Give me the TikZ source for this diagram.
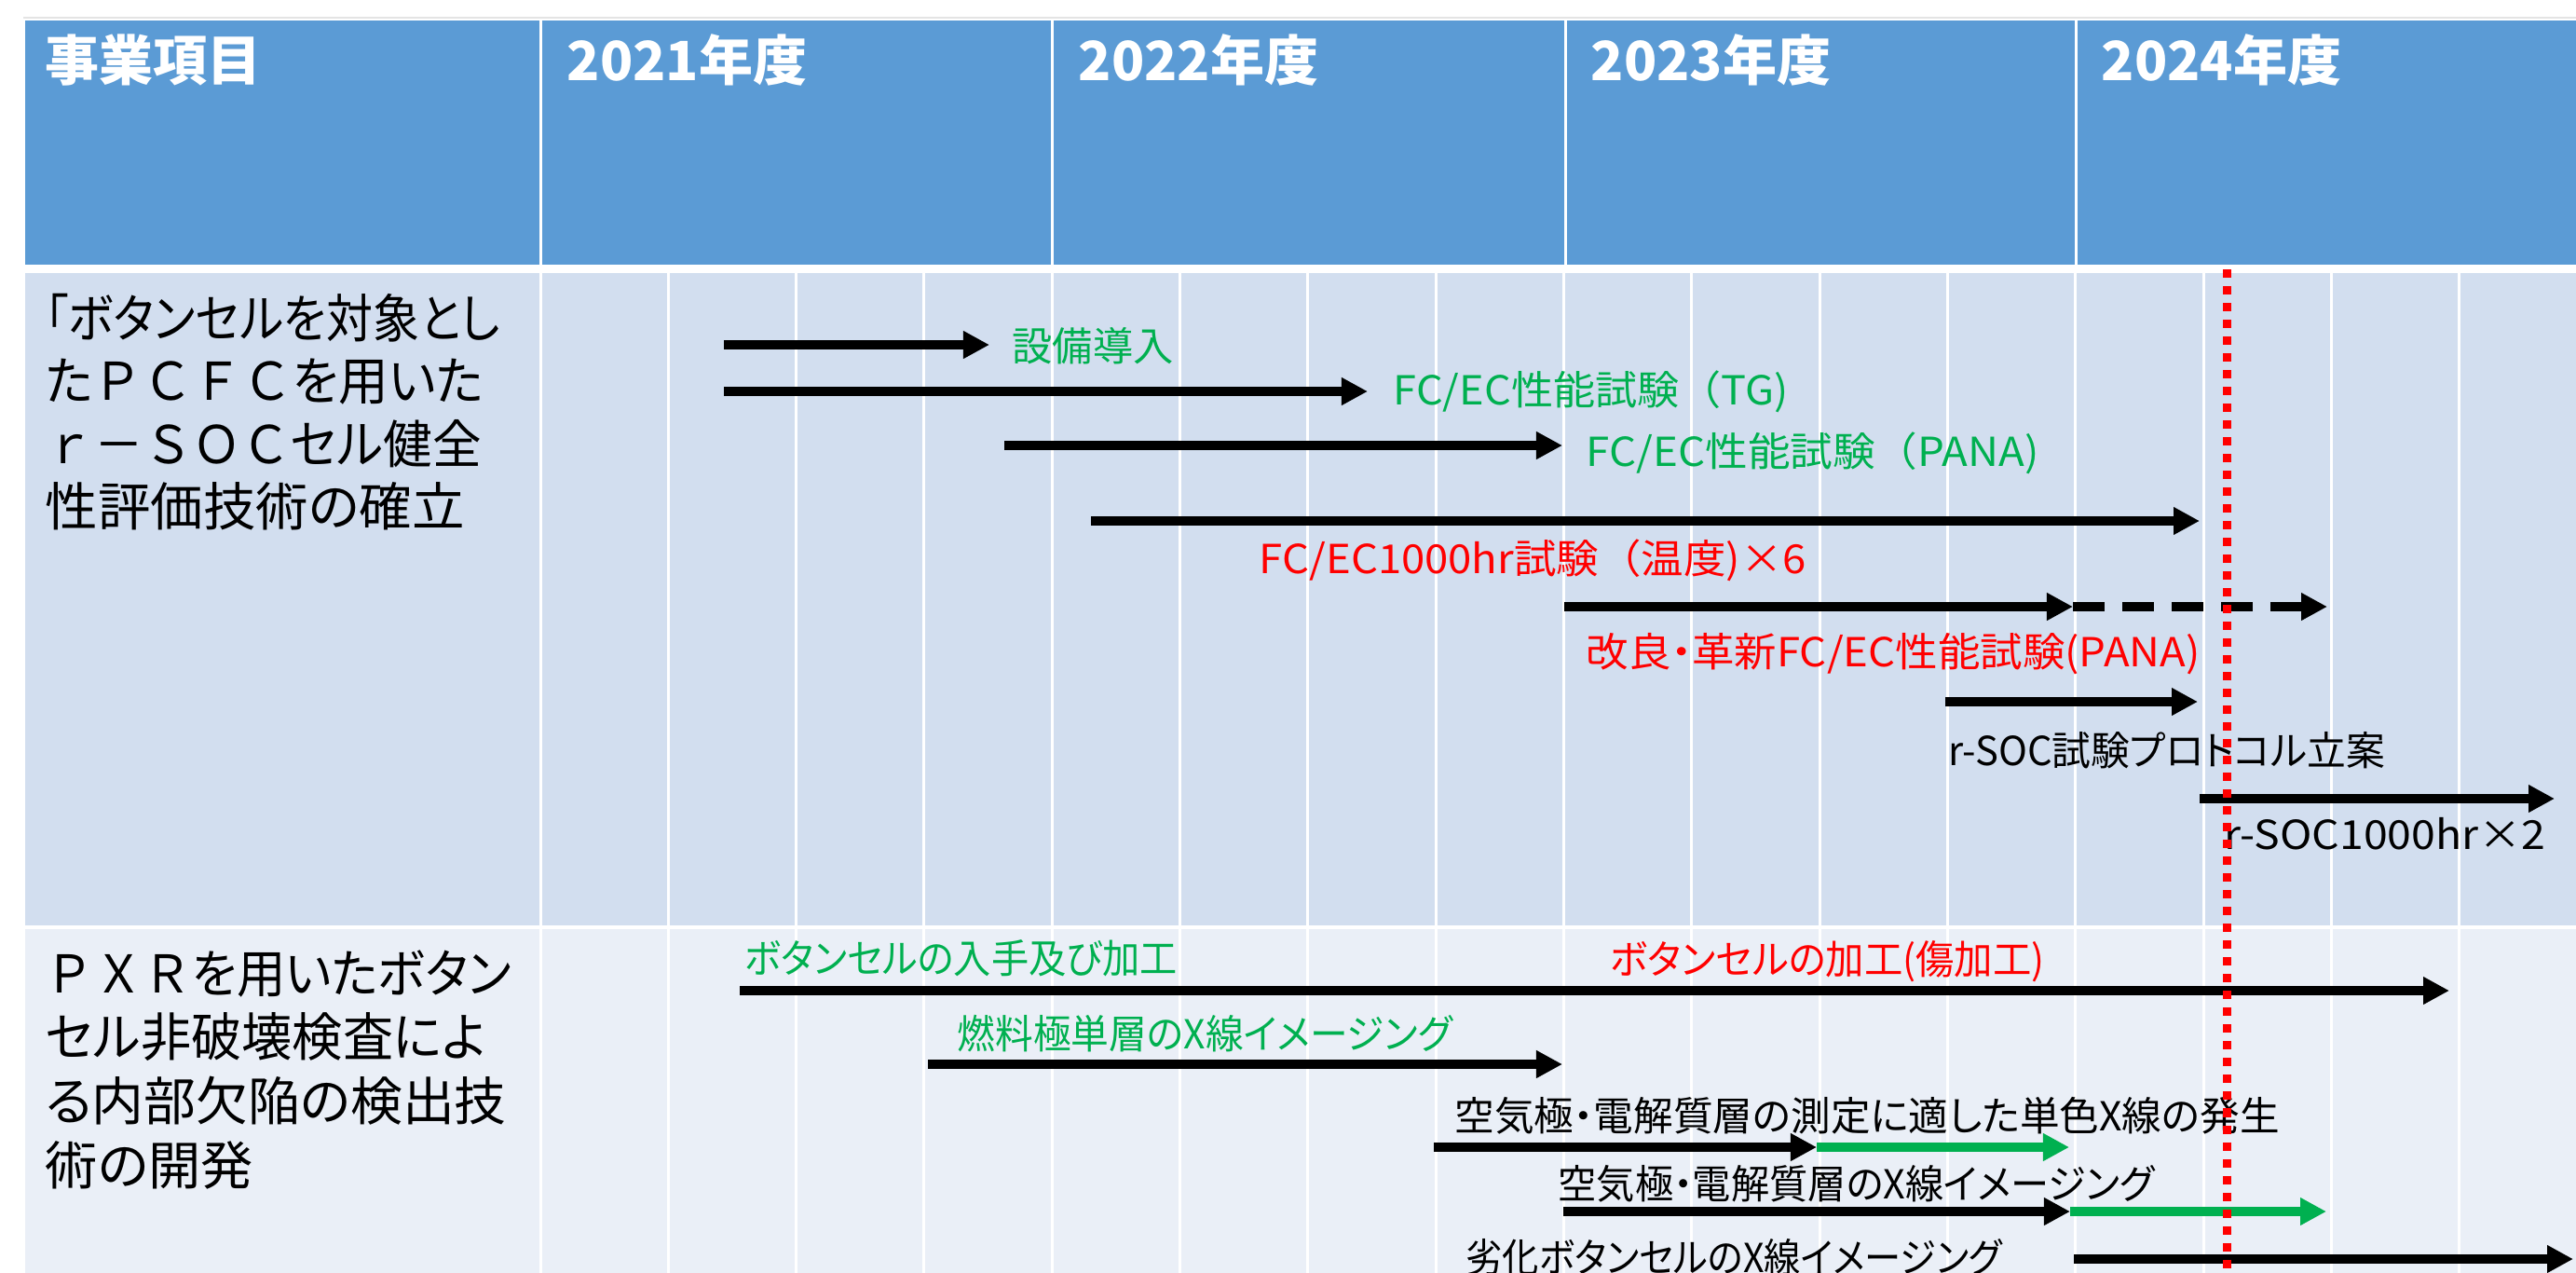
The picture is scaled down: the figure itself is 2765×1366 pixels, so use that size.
\documentclass[tikz,border=0pt]{standalone}
\usepackage{fontspec}
\setmainfont{Noto Sans CJK JP}[RawFeature=+palt]
\newfontfamily\fwfont{Noto Sans CJK JP}
\usetikzlibrary{arrows.meta}
\definecolor{hdr}{HTML}{5B9BD5}
\definecolor{rowA}{HTML}{D2DEEF}
\definecolor{rowB}{HTML}{EAEFF7}
\definecolor{grn}{HTML}{00B050}
\definecolor{rd}{HTML}{FF0000}
\definecolor{topline}{HTML}{E4E4E4}
% fit text to a given width (in px of the reference, 1px = 0.01cm), keeping its height
\newcommand{\fitw}[2]{\resizebox{#1\dimexpr0.01cm\relax}{\height}{#2}}
\begin{document}
\begin{tikzpicture}[x=0.01cm,y=-0.01cm,
  hdrtext/.style={anchor=west, inner sep=0, text=white, font=\fontsize{16.5}{20}\selectfont\bfseries, text height=0.8em, text depth=0.06em},
  itemtext/.style={anchor=north west, inner sep=0, align=left, font=\fontsize{15.9}{19.2}\selectfont},
  lbl/.style={anchor=west, inner sep=0, font=\fontsize{12.2}{14}\selectfont, text height=0.8em, text depth=0.06em},
  arrowbar/.style={line width=0.095cm, -{Triangle[length=0.28cm,width=0.28cm]}},
  gridline/.style={white, line width=0.03cm}
]
\useasboundingbox (0,0) rectangle (2765,1366);
\fill[white] (0,0) rectangle (2765,1366);
\draw[topline, line width=0.02cm] (25,19) -- (2765,19);
% header
\fill[hdr] (27,22) rectangle (2765,284);
\foreach \xx in {580,1129,1680,2228} {\draw[gridline] (\xx,22) -- (\xx,284);}
% rows
\fill[rowA] (27,293) rectangle (2765,993);
\fill[rowB] (27,997) rectangle (2765,1366);
\foreach \k in {0,...,16} {\draw[gridline] ({580+137.33*\k},293) -- ({580+137.33*\k},1366);}
% header texts
\node[hdrtext] (h0) at (48,73) {事業項目};
\node[hdrtext] (h1) at (608,73) {2021年度};
\node[hdrtext] (h2) at (1157,73) {2022年度};
\node[hdrtext] (h3) at (1707,73) {2023年度};
\node[hdrtext] (h4) at (2255,73) {2024年度};
% item texts
\node[itemtext] (item1) at (48,311) {\rule{0pt}{0.9em}\fitw{488}{「ボタンセルを対象とし}\\\fitw{470}{た{\fwfont ＰＣＦＣ}を用いた}\\\fitw{468}{{\fwfont ｒ－ＳＯＣ}セル健全}\\\fitw{450}{性評価技術の確立}};
\node[itemtext, font=\fontsize{15.9}{19.6}\selectfont] (item2) at (48,1014) {\rule{0pt}{0.9em}\fitw{500}{{\fwfont ＰＸＲ}を用いたボタン}\\\fitw{473}{セル非破壊検査によ}\\\fitw{495}{る内部欠陥の検出技}\\\fitw{223}{術の開発}};
% now line
\coordinate (nowT) at (2390,289);
\coordinate (nowB) at (2390,1366);
% row 1 arrows
\coordinate (a1s) at (777,370);  \coordinate (a1e) at (1062,370);
\coordinate (a2s) at (777,420);  \coordinate (a2e) at (1468,420);
\coordinate (a3s) at (1078,478); \coordinate (a3e) at (1677,478);
\coordinate (a4s) at (1171,559); \coordinate (a4e) at (2361,559);
\coordinate (a5s) at (1679,651); \coordinate (a5m) at (2225,651); \coordinate (a5e) at (2498,651);
\coordinate (a6s) at (2088,753); \coordinate (a6e) at (2359,753);
\coordinate (a7s) at (2361,857); \coordinate (a7e) at (2742,857);
\draw[arrowbar] (a1s) -- (a1e);
\draw[arrowbar] (a2s) -- (a2e);
\draw[arrowbar] (a3s) -- (a3e);
\draw[arrowbar] (a4s) -- (a4e);
\draw[arrowbar] (a5s) -- (a5m);
\draw[arrowbar, dash pattern=on 0.34cm off 0.19cm] (a5m) -- (a5e);
\draw[arrowbar] (a6s) -- (a6e);
\draw[arrowbar] (a7s) -- (a7e);
\node[lbl, text=grn] (t1) at (1086,374) {\fitw{173}{設備導入}};
\node[lbl, text=grn] (t2) at (1495,421) {\fitw{424}{FC/EC性能試験{\fwfont （}TG)}};
\node[lbl, text=grn] (t3) at (1702,487) {\fitw{486}{FC/EC性能試験{\fwfont （}PANA)}};
\node[lbl, text=rd] (t4) at (1351,602) {\fitw{587}{FC/EC1000hr試験{\fwfont （}温度)×6}};
\node[lbl, text=rd] (t5) at (1702,702) {\fitw{659}{改良・革新FC/EC性能試験(PANA)}};
\node[lbl] (t6) at (2091,808) {\fitw{468}{r-SOC試験プロトコル立案}};
\node[lbl] (t7) at (2387,898) {\fitw{345}{r-SOC1000hr×2}};
% row 2 arrows
\coordinate (b1s) at (794,1063);  \coordinate (b1e) at (2629,1063);
\coordinate (b2s) at (996,1142);  \coordinate (b2e) at (1677,1142);
\coordinate (b3s) at (1539,1231); \coordinate (b3m) at (1950,1231); \coordinate (b3e) at (2221,1231);
\coordinate (b4s) at (1678,1300); \coordinate (b4m) at (2222,1300); \coordinate (b4e) at (2497,1300);
\coordinate (b5s) at (2226,1351); \coordinate (b5e) at (2762,1351);
\draw[arrowbar] (b1s) -- (b1e);
\draw[arrowbar] (b2s) -- (b2e);
\draw[arrowbar, grn] (b3m) -- (b3e);
\draw[arrowbar] (b3s) -- (b3m);
\draw[arrowbar, grn] (b4m) -- (b4e);
\draw[arrowbar] (b4s) -- (b4m);
\draw[arrowbar] (b5s) -- (b5e);
\node[lbl, text=grn] (u1) at (799,1031) {\fitw{464}{ボタンセルの入手及び加工}};
\node[lbl, text=rd] (u2) at (1728,1032) {\fitw{466}{ボタンセルの加工(傷加工)}};
\node[lbl, text=grn] (u3) at (1027,1112) {\fitw{531}{燃料極単層のX線イメージング}};
\node[lbl] (u4) at (1561,1200) {\fitw{885}{空気極・電解質層の測定に適した単色X線の発生}};
\node[lbl] (u5) at (1672,1273) {\fitw{640}{空気極・電解質層のX線イメージング}};
\node[lbl] (u6) at (1573,1352) {\fitw{575}{劣化ボタンセルのX線イメージング}};
% red dotted "now" line
\draw[rd, line width=0.09cm, dash pattern=on 0.09cm off 0.09cm] (nowT) -- (nowB);
\end{tikzpicture}
\end{document}
